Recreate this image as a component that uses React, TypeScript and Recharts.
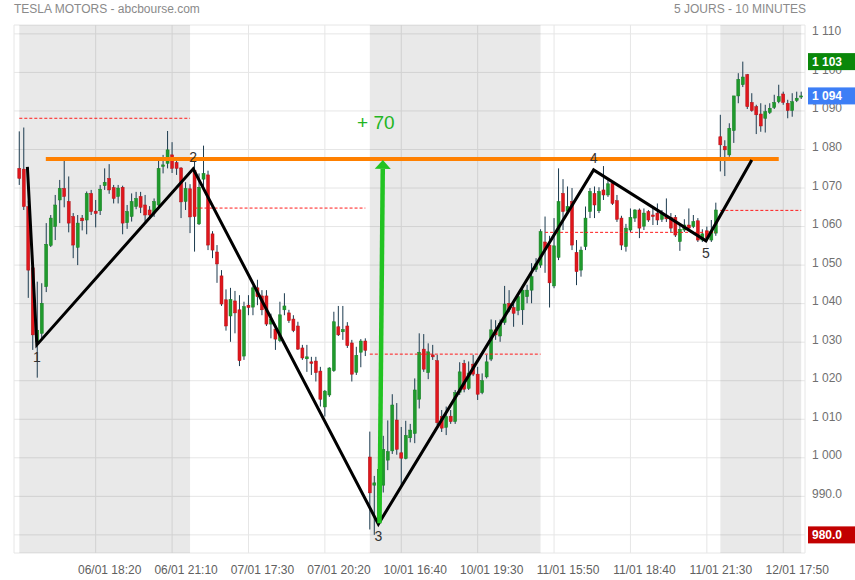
import React from 'react';
import { ComposedChart, Bar, Line, XAxis, YAxis, CartesianGrid, ReferenceArea, ReferenceLine, ReferenceDot } from 'recharts';

// 10-minute candles, index 0 = 06/01 15:30
const opens = [
  1075.1, 1074.9, 1065.2, 1049.3, 1030.1, 1032.3, 1044.4, 1055.1, 1060.0, 1066.9,
  1069.9, 1066.5, 1062.6, 1054.6, 1062.2, 1061.7, 1068.6, 1064.0, 1064.1, 1070.6,
  1072.5, 1070.1, 1067.8, 1070.2, 1061.0, 1062.6, 1065.2, 1067.8, 1065.6, 1064.3,
  1063.5, 1065.6, 1075.6, 1076.4, 1078.6, 1076.6, 1075.2, 1066.5, 1069.8, 1074.5,
  1060.7, 1072.3, 1073.4, 1058.1, 1053.4, 1047.2, 1041.0, 1036.8, 1040.7, 1038.4,
  1026.4, 1039.6, 1039.1, 1044.1, 1042.0, 1042.0, 1034.7, 1033.4, 1030.4, 1038.4,
  1037.6, 1036.0, 1034.2, 1028.5, 1025.7, 1024.9, 1025.1, 1022.5, 1013.2, 1016.3,
  1022.6, 1034.0, 1032.7, 1034.2, 1029.8, 1022.2, 1027.4, 1030.3, 1000.2, 992.9,
  984.0, 992.9, 999.4, 1001.8, 1009.8, 1001.3, 999.8, 1005.2, 1006.3, 1015.2,
  1028.2, 1022.1, 1026.7, 1025.2, 1010.7, 1007.9, 1010.8, 1009.4, 1017.0, 1024.5,
  1018.0, 1024.3, 1021.7, 1016.9, 1021.0, 1025.6, 1033.2, 1031.6, 1035.1, 1040.1,
  1039.0, 1038.2, 1038.4, 1041.8, 1043.5, 1048.9, 1050.0, 1056.0, 1055.2, 1044.6,
  1052.0, 1068.6, 1064.0, 1066.5, 1053.3, 1048.7, 1054.8, 1063.9, 1068.6, 1064.1,
  1069.5, 1068.2, 1071.2, 1066.7, 1062.2, 1054.8, 1059.1, 1062.2, 1064.3, 1060.1,
  1063.9, 1063.0, 1063.5, 1061.9, 1062.6, 1062.4, 1062.4, 1056.1, 1059.1, 1060.4,
  1060.0, 1061.5, 1056.5, 1058.9, 1056.5, 1058.3, 1083.3, 1080.8, 1078.6, 1084.9,
  1093.9, 1096.8, 1099.4, 1092.2, 1091.1, 1089.2, 1088.1, 1089.6, 1090.9, 1092.4,
  1094.4, 1092.0, 1090.1, 1092.7, 1093.6,
];
const highs = [
  1084.7, 1085.7, 1066.7, 1050.0, 1045.7, 1045.3, 1060.9, 1063.0, 1068.2, 1072.1,
  1077.1, 1073.0, 1063.5, 1063.0, 1063.0, 1069.1, 1069.5, 1066.9, 1070.8, 1075.1,
  1076.2, 1070.8, 1070.8, 1070.6, 1065.6, 1068.6, 1069.0, 1069.0, 1068.2, 1065.3,
  1067.3, 1077.2, 1078.6, 1084.8, 1081.9, 1077.5, 1075.4, 1071.5, 1071.0, 1076.9,
  1073.8, 1081.0, 1074.5, 1058.8, 1055.2, 1048.7, 1043.7, 1044.1, 1043.3, 1042.2,
  1040.5, 1042.2, 1044.6, 1046.2, 1043.5, 1043.5, 1037.4, 1034.5, 1040.5, 1042.7,
  1038.4, 1037.0, 1035.3, 1029.3, 1029.3, 1026.2, 1026.2, 1023.6, 1017.6, 1023.5,
  1037.9, 1039.4, 1039.4, 1035.2, 1030.6, 1028.8, 1030.8, 1031.0, 1006.8, 995.3,
  999.0, 1005.7, 1009.7, 1016.5, 1014.2, 1008.0, 1009.6, 1008.8, 1020.6, 1032.3,
  1032.1, 1029.7, 1029.3, 1026.7, 1012.4, 1013.3, 1012.4, 1017.6, 1024.8, 1025.4,
  1025.0, 1026.7, 1023.6, 1021.9, 1026.7, 1035.9, 1035.7, 1035.9, 1044.6, 1043.5,
  1040.5, 1042.7, 1044.6, 1044.9, 1050.5, 1051.8, 1059.3, 1062.6, 1057.6, 1062.2,
  1075.1, 1072.3, 1070.4, 1070.0, 1056.5, 1054.8, 1065.2, 1070.0, 1070.4, 1070.2,
  1075.7, 1072.1, 1071.7, 1068.2, 1062.8, 1060.7, 1064.7, 1064.5, 1064.7, 1064.7,
  1064.3, 1065.2, 1066.0, 1064.3, 1067.3, 1063.5, 1063.0, 1060.4, 1061.9, 1064.7,
  1063.0, 1062.2, 1059.3, 1060.0, 1061.7, 1066.2, 1089.0, 1082.4, 1086.8, 1093.9,
  1099.8, 1102.8, 1099.6, 1094.6, 1091.6, 1092.0, 1091.6, 1092.0, 1094.2, 1096.8,
  1095.0, 1092.9, 1094.6, 1095.0, 1095.0,
];
const lows = [
  1070.8, 1064.3, 1041.5, 1028.0, 1020.8, 1030.9, 1043.0, 1054.7, 1056.5, 1060.9,
  1065.0, 1058.5, 1051.8, 1050.0, 1059.0, 1058.0, 1063.0, 1059.8, 1063.0, 1069.5,
  1068.5, 1066.0, 1066.0, 1058.0, 1059.4, 1061.3, 1064.5, 1063.5, 1061.3, 1062.0,
  1062.5, 1064.5, 1073.8, 1075.1, 1073.9, 1073.4, 1062.2, 1064.3, 1058.3, 1053.5,
  1060.4, 1069.5, 1053.9, 1051.8, 1045.4, 1039.4, 1033.0, 1030.1, 1032.3, 1023.8,
  1025.4, 1037.0, 1037.0, 1039.6, 1037.0, 1034.2, 1031.0, 1028.0, 1030.0, 1037.0,
  1035.0, 1032.6, 1028.0, 1025.4, 1022.3, 1021.5, 1019.8, 1013.3, 1010.7, 1015.8,
  1022.3, 1031.6, 1030.6, 1028.5, 1019.8, 1021.5, 1023.5, 1026.4, 981.4, 980.0,
  982.8, 991.0, 996.8, 1001.0, 1000.8, 992.2, 999.6, 1004.0, 1003.8, 1012.8,
  1022.3, 1020.4, 1025.4, 1008.5, 1006.7, 1005.9, 1008.8, 1008.8, 1016.3, 1017.0,
  1017.6, 1021.2, 1015.0, 1016.5, 1020.6, 1025.1, 1030.6, 1030.1, 1034.5, 1037.8,
  1034.0, 1037.0, 1034.5, 1040.1, 1040.1, 1048.2, 1049.3, 1048.0, 1039.0, 1044.0,
  1051.3, 1059.1, 1063.0, 1053.9, 1044.8, 1047.0, 1053.9, 1062.2, 1062.2, 1063.5,
  1066.9, 1067.7, 1065.6, 1061.2, 1053.9, 1053.5, 1058.6, 1061.2, 1057.0, 1059.1,
  1061.2, 1060.4, 1060.4, 1061.2, 1061.2, 1058.6, 1057.3, 1053.7, 1058.6, 1059.1,
  1059.6, 1056.0, 1056.0, 1056.5, 1056.0, 1057.6, 1074.3, 1073.1, 1078.1, 1081.7,
  1092.0, 1096.2, 1090.5, 1089.8, 1084.0, 1084.6, 1084.4, 1089.2, 1090.5, 1092.0,
  1091.6, 1088.1, 1088.5, 1092.3, 1093.1,
];
const closes = [
  1072.5, 1065.2, 1048.7, 1031.9, 1033.1, 1040.1, 1055.4, 1062.2, 1065.6, 1069.9,
  1067.8, 1060.9, 1055.2, 1060.9, 1061.5, 1068.6, 1063.9, 1063.4, 1069.7, 1071.5,
  1069.5, 1067.3, 1070.0, 1060.9, 1063.9, 1066.5, 1067.3, 1065.0, 1063.0, 1063.0,
  1066.5, 1075.1, 1076.0, 1079.9, 1075.1, 1075.1, 1066.4, 1069.9, 1062.5, 1062.6,
  1070.2, 1073.8, 1055.2, 1053.9, 1050.3, 1039.9, 1034.2, 1041.1, 1037.6, 1025.2,
  1039.2, 1039.0, 1044.1, 1041.8, 1038.4, 1034.7, 1036.0, 1030.8, 1037.1, 1039.4,
  1035.6, 1033.0, 1028.2, 1025.9, 1026.2, 1024.5, 1022.1, 1015.2, 1017.3, 1023.3,
  1035.3, 1031.9, 1033.3, 1029.1, 1021.7, 1026.6, 1030.3, 1027.9, 990.9, 993.5,
  997.0, 1002.2, 1001.6, 1013.7, 1002.2, 999.9, 1005.8, 1007.2, 1017.6, 1027.4,
  1023.0, 1027.5, 1026.2, 1009.1, 1007.7, 1010.7, 1009.4, 1016.9, 1022.3, 1017.8,
  1022.0, 1021.7, 1016.5, 1020.0, 1024.9, 1033.2, 1031.9, 1034.9, 1039.9, 1038.5,
  1037.5, 1041.8, 1043.5, 1043.5, 1047.0, 1050.3, 1058.7, 1054.0, 1045.4, 1055.0,
  1066.5, 1063.9, 1065.2, 1055.2, 1048.3, 1053.9, 1062.2, 1069.1, 1065.6, 1069.1,
  1068.2, 1071.1, 1066.0, 1061.9, 1055.2, 1059.6, 1062.4, 1064.3, 1059.6, 1063.5,
  1061.7, 1062.6, 1061.7, 1063.3, 1062.0, 1059.6, 1057.8, 1059.3, 1060.4, 1059.6,
  1061.3, 1056.5, 1058.1, 1057.0, 1058.7, 1064.3, 1081.2, 1079.9, 1085.5, 1093.9,
  1098.2, 1098.8, 1091.1, 1090.1, 1089.0, 1086.1, 1089.8, 1090.7, 1092.2, 1093.7,
  1092.2, 1090.1, 1092.4, 1093.3, 1093.9,
];

const tickIdx = [17, 34, 51, 68, 85, 102, 119, 136, 153, 170];
const tickLabels = [
  '06/01 18:20', '06/01 21:10', '07/01 17:30', '07/01 20:20', '10/01 16:40',
  '10/01 19:30', '11/01 15:50', '11/01 18:40', '11/01 21:30', '12/01 17:50',
];
const priceTicks = [980, 990, 1000, 1010, 1020, 1030, 1040, 1050, 1060, 1070, 1080, 1090, 1100, 1110];

// sessions (candle index ranges) and the dashed level drawn over each one
const dayStart = [0, 39, 78, 117, 156];
const dayEnd = [38, 77, 116, 155, 174];
const shadedDays = [0, 2, 4];
const dayLevels = [1088.1, 1064.8, 1026.9, 1058.5, 1064.2];

// wave count drawn by hand on the chart
const waveIdx = [1.8, 3.9, 38.7, 79.9, 127.8, 152.8, 163.0];
const waveVal = [1075.5, 1029.3, 1075.0, 982.8, 1074.7, 1056.3, 1077.3];
const waveLabels = ['', '1', '2', '3', '4', '5', ''];
const waveLabelSide = [0, 1, -1, 1, -1, 1, 0];

const resistance = 1077.5;
const resistanceFrom = 5.9;
const resistanceTo = 169.0;
const arrowFrom = { x: 80.15, y: 983.0 };
const arrowTo = { x: 80.9, y: 1077.3 };
const arrowText = '+ 70';

const X_MIN = -1.18;
const X_MAX = 174.84;
const Y_MIN = 975.3;
const Y_MAX = 1112.3;

const FONT = '"Liberation Sans", Arial, sans-serif';

const rows = opens.map((o, i) => ({
  i,
  open: o,
  high: highs[i],
  low: lows[i],
  close: closes[i],
  range: [lows[i], highs[i]],
}));

const waveData = waveIdx.map((x, k) => ({ i: x, v: waveVal[k] }));

const fmtPrice = (v: number) =>
  v >= 1000 ? `1 ${String(Math.round(v) - 1000).padStart(3, '0')}` : v.toFixed(1);

const Candle = (props: any) => {
  const { x, y, width, height, payload } = props;
  if (x == null || payload == null) return null;
  const top = Math.min(y, y + height);
  const h = Math.abs(height);
  const { open, close, high, low } = payload;
  const cx = x + width / 2;
  const k = h / (high - low);
  const yO = top + (high - open) * k;
  const yC = top + (high - close) * k;
  const up = close >= open;
  const bTop = Math.min(yO, yC);
  const bH = Math.max(1, Math.abs(yC - yO));
  return (
    <g>
      <line x1={cx} x2={cx} y1={top} y2={top + h} stroke="#1c3b4f" strokeWidth={1} />
      <rect
        x={cx - 1.5}
        y={bTop}
        width={3}
        height={bH}
        fill={up ? '#1f9a2c' : '#e0161c'}
        stroke={up ? '#177f24' : '#b01218'}
        strokeWidth={0.5}
      />
    </g>
  );
};

const XTick = (props: any) => {
  const { x, y, payload } = props;
  const k = tickIdx.indexOf(payload.value);
  return (
    <text x={x + 14} y={y + 13} textAnchor="middle" fill="#606060" fontSize={12} fontFamily={FONT}>
      {tickLabels[k]}
    </text>
  );
};

const YTick = (props: any) => {
  const { x, y, payload } = props;
  return (
    <text x={x - 1} y={y + 1.5} textAnchor="start" fill="#707070" fontSize={12} fontFamily={FONT}>
      {fmtPrice(payload.value)}
    </text>
  );
};

const Arrow = (props: any) => {
  const { x1, y1, x2, y2 } = props;
  const headLen = 9;
  const dx = x2 - x1;
  const dy = y2 - y1;
  const len = Math.sqrt(dx * dx + dy * dy);
  const ux = dx / len;
  const uy = dy / len;
  const bx = x2 - ux * headLen;
  const by = y2 - uy * headLen;
  return (
    <g>
      <line x1={x1} y1={y1} x2={bx} y2={by} stroke="#22c322" strokeWidth={4.5} />
      <polygon
        points={`${x2},${y2} ${bx - uy * 8},${by + ux * 8} ${bx + uy * 8},${by - ux * 8}`}
        fill="#22c322"
      />
    </g>
  );
};

const badge = (color: string, text: string) => (p: any) => (
  <g>
    <rect x={p.cx + 3} y={p.cy - 8.5} width={50} height={17} fill={color} />
    <text x={p.cx + 7} y={p.cy + 4.5} fill="#fff" fontSize={12} fontWeight="bold" fontFamily={FONT}>
      {text}
    </text>
  </g>
);

export default function App() {
  const maxHigh = Math.max(...highs);
  const minLow = Math.min(...lows);
  const last = closes[closes.length - 1];
  return (
    <div style={{ position: 'absolute', left: 0, top: 0, width: 855, height: 580, background: '#fff', fontFamily: FONT }}>
      <ComposedChart width={855} height={580} data={rows} margin={{ top: 25, right: 0, bottom: 0, left: 14 }}>
        <CartesianGrid stroke="#e6e6e6" />
        {shadedDays.map((d) => (
          <ReferenceArea key={d} x1={dayStart[d]} x2={dayEnd[d]} fill="#000" fillOpacity={0.085} stroke="none" />
        ))}
        <ReferenceArea fill="none" stroke="#d8d8d8" />
        <XAxis
          type="number"
          dataKey="i"
          domain={[X_MIN, X_MAX]}
          allowDataOverflow
          ticks={tickIdx}
          interval={0}
          height={27}
          axisLine={false}
          tickLine={false}
          tick={<XTick />}
        />
        <YAxis
          type="number"
          orientation="right"
          domain={[Y_MIN, Y_MAX]}
          allowDataOverflow
          ticks={priceTicks}
          interval={0}
          width={50}
          axisLine={false}
          tickLine={false}
          tick={<YTick />}
        />
        <Bar dataKey="range" barSize={3} shape={<Candle />} isAnimationActive={false} />
        {dayLevels.map((lv, d) => (
          <ReferenceLine
            key={`lv${d}`}
            segment={[{ x: dayStart[d], y: lv }, { x: dayEnd[d], y: lv }]}
            stroke="#ff1a1a"
            strokeWidth={1}
            strokeDasharray="3 2"
          />
        ))}
        <ReferenceLine
          segment={[{ x: resistanceFrom, y: resistance }, { x: resistanceTo, y: resistance }]}
          stroke="#ff8000"
          strokeWidth={4}
        />
        <Line
          data={waveData}
          dataKey="v"
          type="linear"
          stroke="#000"
          strokeWidth={3}
          dot={false}
          activeDot={false}
          isAnimationActive={false}
        />
        <ReferenceLine segment={[arrowFrom, arrowTo]} shape={(p: any) => <Arrow {...p} />} />
        <ReferenceDot
          x={arrowTo.x}
          y={arrowTo.y}
          ifOverflow="visible"
          shape={(p: any) => (
            <text x={p.cx - 7} y={p.cy - 31} textAnchor="middle" fill="#22b522" fontSize={19} fontFamily={FONT}>
              {arrowText}
            </text>
          )}
        />
        {waveLabels.map((t, k) =>
          t ? (
            <ReferenceDot
              key={`w${k}`}
              x={waveIdx[k]}
              y={waveVal[k]}
              ifOverflow="visible"
              shape={(p: any) => (
                <text
                  x={p.cx}
                  y={p.cy + waveLabelSide[k] * 12 + 5}
                  textAnchor="middle"
                  fill="#333"
                  fontSize={14}
                  fontFamily={FONT}
                >
                  {t}
                </text>
              )}
            />
          ) : null
        )}
        <ReferenceDot x={X_MAX} y={maxHigh} ifOverflow="visible" zIndex={2000} shape={badge('#0a870a', fmtPrice(maxHigh))} />
        <ReferenceDot x={X_MAX} y={last} ifOverflow="visible" zIndex={2000} shape={badge('#3d7ef6', fmtPrice(last))} />
        <ReferenceDot x={X_MAX} y={minLow} ifOverflow="visible" zIndex={2000} shape={badge('#c20000', fmtPrice(minLow))} />
      </ComposedChart>
      <div style={{ position: 'absolute', left: 14, top: 2, fontSize: 12, lineHeight: '14px', color: '#8a8a8a' }}>
        TESLA MOTORS - abcbourse.com
      </div>
      <div style={{ position: 'absolute', right: 49, top: 2, fontSize: 12, lineHeight: '14px', color: '#8a8a8a' }}>
        5 JOURS - 10 MINUTES
      </div>
    </div>
  );
}
